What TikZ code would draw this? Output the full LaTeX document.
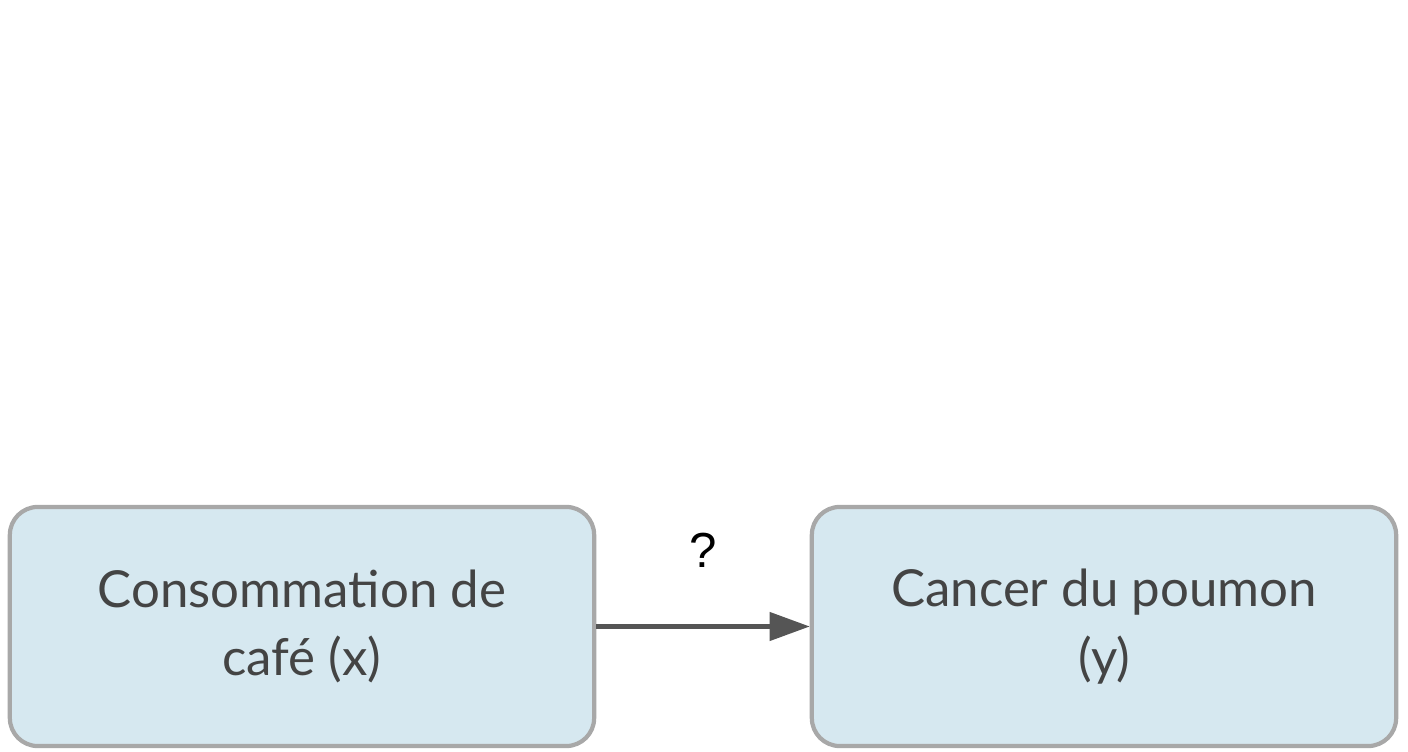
\documentclass[tikz,border=0pt]{standalone}
\usepackage{fontspec}
\setmainfont{Lato}
\newfontfamily\qfont{Liberation Sans}
\usetikzlibrary{arrows.meta}
\definecolor{boxfill}{HTML}{D6E8F0}
\definecolor{boxline}{HTML}{A8A8A8}
\definecolor{txt}{HTML}{444444}
\definecolor{arr}{HTML}{555555}
\begin{document}
\begin{tikzpicture}[x=0.01cm,y=-0.01cm,
  box/.style={draw=boxline,line width=1.2pt,fill=boxfill,rounded corners=0.28cm,
    minimum width=5.84cm,minimum height=2.39cm,align=center,text=txt,
    font=\fontsize{14.5}{19.5}\selectfont}]
\useasboundingbox (0,0) rectangle (1408,752);
\node[box] (a) at (302,626.5) {Consommation de\\café (x)};
\node[box] (b) at (1104,626.5) {Cancer du poumon\\(y)};
\draw[arr,line width=1.2pt,-{Triangle[length=0.4cm,width=0.28cm]}] (a.east) -- (b.west)
  node[midway,above=0.45cm,text=black,font=\qfont\fontsize{14}{16}\selectfont] (q) {?};
\end{tikzpicture}
\end{document}
